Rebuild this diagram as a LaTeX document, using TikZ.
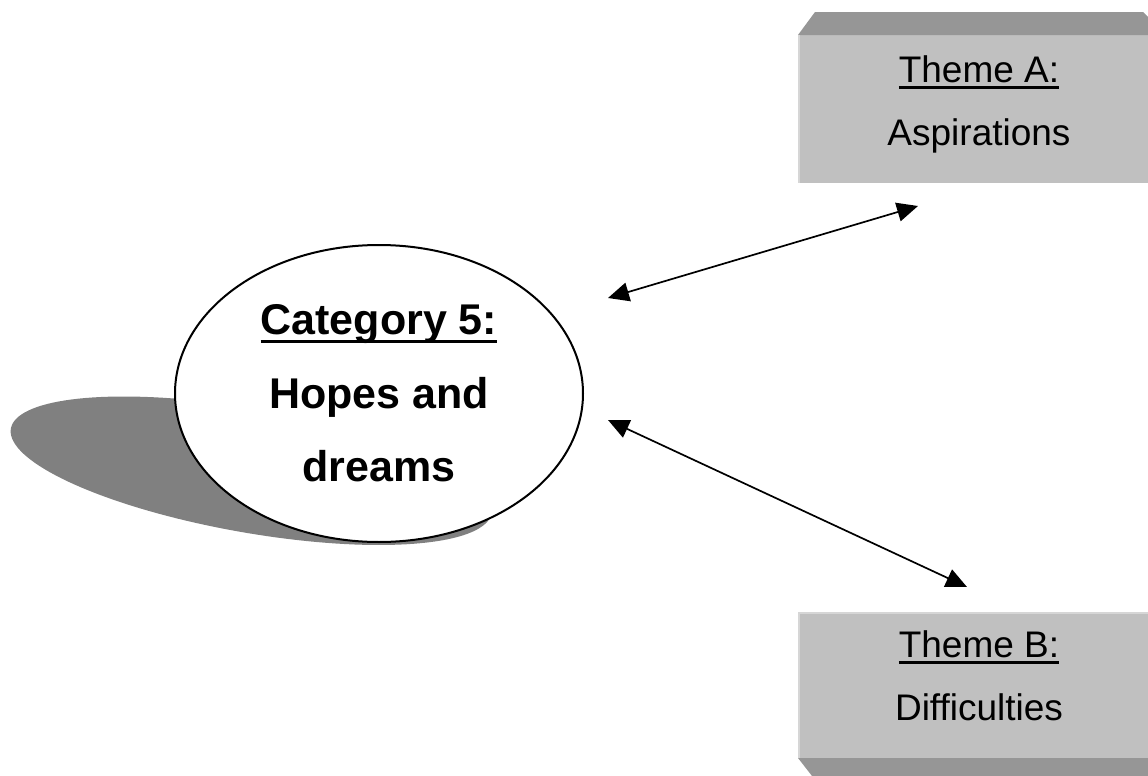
\documentclass[tikz,border=0pt]{standalone}
\usepackage{fontspec}
\setmainfont{Liberation Sans}
\usetikzlibrary{shapes.geometric}
\usetikzlibrary{arrows.meta}

\definecolor{boxgray}{HTML}{C0C0C0}
\definecolor{bevelgray}{HTML}{969696}
\definecolor{edgegray}{HTML}{D6D6D6}
\definecolor{shadowgray}{HTML}{808080}

% word style underline
\newcommand{\ulword}[1]{\setbox0=\hbox{#1}\rlap{\rule[-0.19em]{\wd0}{0.08em}}\box0}

\begin{document}
\begin{tikzpicture}[x=0.5pt,y=-0.5pt,
	themetext/.style={align=center, inner sep=0pt, font=\fontsize{18.5pt}{31.5pt}\selectfont},
	link/.style={{Triangle[length=10.5pt,width=9.5pt]}-{Triangle[length=10.5pt,width=9.5pt]}, line width=0.85pt}]
\useasboundingbox (0,0) rectangle (1148,776);

%shadow of the category
\fill[shadowgray] plot[domain=0:360,samples=150] ({379+204*cos(\x)-127.7*(1-sin(\x))},{545-148.5*(1-sin(\x))/2}) -- cycle;

\node[ellipse, draw, fill=white, line width=1pt, minimum width=204pt, minimum height=148.5pt, inner sep=0pt,
	align=center, font=\fontsize{21.5pt}{36.75pt}\selectfont\bfseries] (cat) at (379,393.5) {\ulword{Category 5:}\\Hopes and\\dreams};

%theme A, bevel on top
\fill[boxgray] (798,35) rectangle (1148,183);
\fill[bevelgray] (798,35) -- (815,12) -- (1143,12) -- (1148,17) -- (1148,35) -- cycle;
\draw[edgegray, line width=1pt] (799,35) -- (799,183);
\node[themetext] (themeA) at (979,104) {\ulword{Theme A:}\\Aspirations};

%theme B, bevel below
\fill[boxgray] (798,612) rectangle (1148,758);
\fill[bevelgray] (798,758) -- (1148,758) -- (1148,776) -- (812,776) -- cycle;
\draw[edgegray, line width=1pt] (799,612) -- (799,758);
\draw[edgegray, line width=1pt] (798,612.5) -- (1148,612.5);
\node[themetext] (themeB) at (979,675.5) {\ulword{Theme B:}\\Difficulties};

\coordinate (catA) at (608,298);
\coordinate (aspA) at (918,206);
\coordinate (catB) at (608,420);
\coordinate (difB) at (967,587);

\draw[link] (catA) -- (aspA);
\draw[link] (catB) -- (difB);

\end{tikzpicture}
\end{document}
